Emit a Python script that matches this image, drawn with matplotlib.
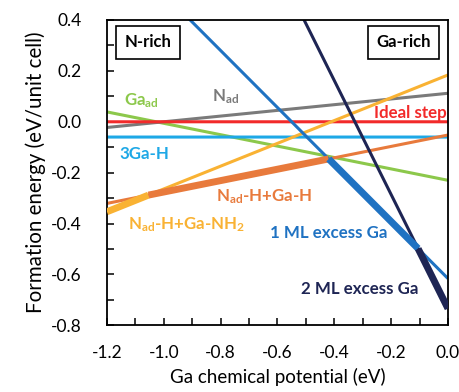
import numpy as np
import matplotlib
matplotlib.use("Agg")
import matplotlib.pyplot as plt
from matplotlib.ticker import MultipleLocator, FormatStrFormatter

plt.rcParams['font.family'] = ['Lato', 'DejaVu Sans']
plt.rcParams['axes.unicode_minus'] = False
plt.rcParams['mathtext.fontset'] = 'custom'
plt.rcParams['mathtext.bf'] = 'Lato:bold'
plt.rcParams['mathtext.rm'] = 'Lato'
plt.rcParams['mathtext.default'] = 'bf'

# Surface structures: formation energy E = E0 + slope * mu_Ga
names = ["Ga_ad", "N_ad", "Ideal step", "3Ga-H", "Nad-H+Ga-NH2", "Nad-H+Ga-H",
         "1 ML excess Ga", "2 ML excess Ga"]
e0 = [-0.230, 0.112, 0.000, -0.060, 0.184, -0.052, -0.616, -0.734]
slope = [-0.224, 0.112, 0.000, 0.000, 0.448, 0.224, -1.120, -2.240]
colors = ["#8cc84b", "#7a7a7a", "#f22a2a", "#1ea8e6", "#f9b233", "#e87a3c",
          "#1f72c2", "#1e2554"]

labels = [r"Ga$_{ad}$", r"N$_{ad}$", "Ideal step", "3Ga-H", r"N$_{ad}$-H+Ga-NH$_{2}$",
          r"N$_{ad}$-H+Ga-H", "1 ML excess Ga", "2 ML excess Ga"]
label_xy = [(-1.14, 0.085), (-0.83, 0.097), (-0.005, 0.034), (-1.155, -0.127),
            (-1.125, -0.406), (-0.815, -0.295), (-0.626, -0.439), (-0.517, -0.656)]
label_ha = ["left", "left", "right", "left", "left", "left", "left", "left"]

xmin, xmax = -1.2, 0.0
mu = np.linspace(xmin, xmax, 2401)

fig = plt.figure(figsize=(4.59, 3.92), dpi=100)
ax = fig.add_axes([0.233, 0.170, 0.743, 0.779])

vals = np.array([a + b * mu for a, b in zip(e0, slope)])
for v, c in zip(vals, colors):
    ax.plot(mu, v, color=c, lw=2.2, solid_capstyle='butt', zorder=2)

# Lowest-energy structure highlighted with thick segments
imin = np.argmin(vals, axis=0)
for i, c in enumerate(colors):
    seg = np.where(imin == i, vals[i], np.nan)
    if np.any(np.isfinite(seg)):
        ax.plot(mu, seg, color=c, lw=5.0, solid_capstyle='butt', zorder=3)

for lab, (x, y), ha, c in zip(labels, label_xy, label_ha, colors):
    ax.text(x, y, lab, color=c, fontsize=12.2, fontweight='bold', ha=ha,
            va='center', zorder=5)

box = dict(boxstyle='square,pad=0.5', fc='white', ec='black', lw=1.2)
ax.text(0.12, 0.927, "N-rich", transform=ax.transAxes, ha='center', va='center',
        fontsize=12, fontweight='bold', bbox=box, zorder=6)
ax.text(0.87, 0.927, "Ga-rich", transform=ax.transAxes, ha='center', va='center',
        fontsize=12, fontweight='bold', bbox=box, zorder=6)

ax.set_xlim(xmin, xmax)
ax.set_ylim(-0.8, 0.4)
ax.xaxis.set_major_locator(MultipleLocator(0.2))
ax.xaxis.set_minor_locator(MultipleLocator(0.1))
ax.yaxis.set_major_locator(MultipleLocator(0.2))
ax.yaxis.set_minor_locator(MultipleLocator(0.1))
ax.xaxis.set_major_formatter(FormatStrFormatter('%.1f'))
ax.yaxis.set_major_formatter(FormatStrFormatter('%.1f'))
ax.tick_params(which='both', direction='in', length=5, width=1.1,
               top=False, right=False, labelsize=12.5)
ax.tick_params(axis='x', which='major', pad=14)
ax.tick_params(axis='y', which='major', pad=18)
for s in ax.spines.values():
    s.set_linewidth(1.3)

ax.set_xlabel("Ga chemical potential (eV)", fontsize=13.5, labelpad=5)
ax.set_ylabel("Formation energy (eV/unit cell)", fontsize=14.8, labelpad=4)

fig.savefig("out.png", dpi=100)
